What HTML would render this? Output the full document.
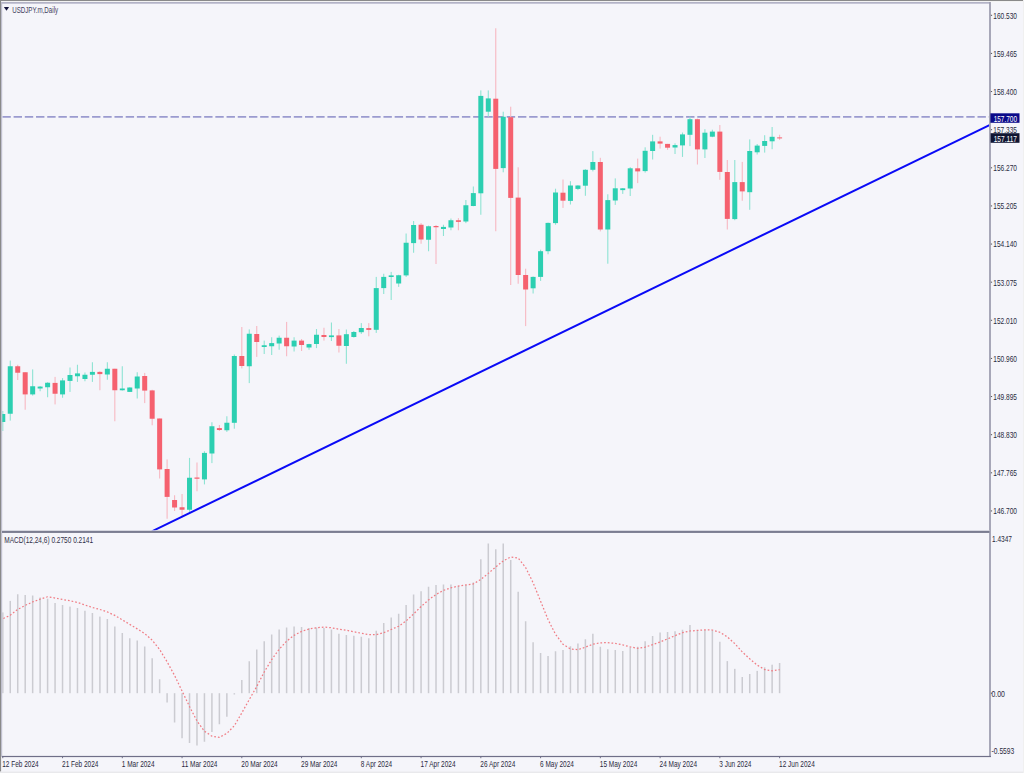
<!DOCTYPE html><html><head><meta charset="utf-8"><title>USDJPY.m,Daily</title><style>html,body{margin:0;padding:0;background:#f5f5fa;overflow:hidden}svg{display:block}text{font-family:"Liberation Sans",Arial,sans-serif}</style></head><body>
<svg width="1024" height="773" viewBox="0 0 1024 773">
<rect x="0" y="0" width="1024" height="773" fill="#f5f5fa"/>
<defs><clipPath id="cm"><rect x="2.2" y="3.6" width="987.3" height="527.4"/></clipPath><clipPath id="cs"><rect x="2.2" y="533" width="987.3" height="223"/></clipPath></defs>
<g clip-path="url(#cm)">
<line x1="2.39" y1="116.9" x2="989" y2="116.9" stroke="#9b9bcf" stroke-width="1.8" stroke-dasharray="8.4 2.808"/>
<rect x="2.23" y="411.00" width="1.1" height="20.00" fill="#8fe3d3"/>
<rect x="0.28" y="414.00" width="5" height="8.00" fill="#2ccfb1"/>
<rect x="9.70" y="360.60" width="1.1" height="60.00" fill="#8fe3d3"/>
<rect x="7.75" y="366.25" width="5" height="47.50" fill="#2ccfb1"/>
<rect x="17.17" y="364.75" width="1.1" height="15.25" fill="#f7b8c2"/>
<rect x="15.22" y="366.25" width="5" height="6.50" fill="#f5616f"/>
<rect x="24.64" y="372.25" width="1.1" height="37.50" fill="#f7b8c2"/>
<rect x="22.69" y="372.25" width="5" height="22.15" fill="#f5616f"/>
<rect x="32.11" y="369.40" width="1.1" height="26.20" fill="#8fe3d3"/>
<rect x="30.16" y="386.25" width="5" height="8.15" fill="#2ccfb1"/>
<rect x="39.58" y="386.00" width="1.1" height="5.25" fill="#8fe3d3"/>
<rect x="37.63" y="386.60" width="5" height="1.90" fill="#2ccfb1"/>
<rect x="47.05" y="382.25" width="1.1" height="15.00" fill="#8fe3d3"/>
<rect x="45.10" y="382.75" width="5" height="4.50" fill="#2ccfb1"/>
<rect x="54.52" y="376.90" width="1.1" height="27.50" fill="#f7b8c2"/>
<rect x="52.57" y="382.90" width="5" height="10.85" fill="#f5616f"/>
<rect x="61.99" y="378.10" width="1.1" height="19.65" fill="#8fe3d3"/>
<rect x="60.04" y="380.40" width="5" height="14.00" fill="#2ccfb1"/>
<rect x="69.45" y="367.50" width="1.1" height="24.40" fill="#8fe3d3"/>
<rect x="67.50" y="375.00" width="5" height="5.90" fill="#2ccfb1"/>
<rect x="76.92" y="364.75" width="1.1" height="17.15" fill="#8fe3d3"/>
<rect x="74.97" y="373.40" width="5" height="2.85" fill="#2ccfb1"/>
<rect x="84.39" y="372.50" width="1.1" height="8.75" fill="#8fe3d3"/>
<rect x="82.44" y="374.75" width="5" height="4.25" fill="#2ccfb1"/>
<rect x="91.86" y="362.25" width="1.1" height="19.65" fill="#8fe3d3"/>
<rect x="89.91" y="371.90" width="5" height="2.85" fill="#2ccfb1"/>
<rect x="99.33" y="371.25" width="1.1" height="19.00" fill="#f7b8c2"/>
<rect x="97.38" y="371.90" width="5" height="2.20" fill="#f5616f"/>
<rect x="106.80" y="362.25" width="1.1" height="17.50" fill="#8fe3d3"/>
<rect x="104.85" y="368.75" width="5" height="5.75" fill="#2ccfb1"/>
<rect x="114.27" y="368.75" width="1.1" height="52.50" fill="#f7b8c2"/>
<rect x="112.32" y="368.75" width="5" height="21.50" fill="#f5616f"/>
<rect x="121.74" y="366.25" width="1.1" height="24.35" fill="#8fe3d3"/>
<rect x="119.79" y="388.50" width="5" height="1.75" fill="#2ccfb1"/>
<rect x="129.21" y="387.25" width="1.1" height="4.75" fill="#8fe3d3"/>
<rect x="127.26" y="387.50" width="5" height="4.40" fill="#2ccfb1"/>
<rect x="136.68" y="372.25" width="1.1" height="26.25" fill="#8fe3d3"/>
<rect x="134.73" y="376.50" width="5" height="12.00" fill="#2ccfb1"/>
<rect x="144.15" y="372.90" width="1.1" height="30.20" fill="#f7b8c2"/>
<rect x="142.20" y="376.00" width="5" height="14.60" fill="#f5616f"/>
<rect x="151.62" y="389.75" width="1.1" height="35.50" fill="#f7b8c2"/>
<rect x="149.67" y="390.40" width="5" height="28.35" fill="#f5616f"/>
<rect x="159.09" y="418.50" width="1.1" height="60.00" fill="#f7b8c2"/>
<rect x="157.14" y="418.50" width="5" height="50.90" fill="#f5616f"/>
<rect x="166.56" y="459.40" width="1.1" height="59.35" fill="#f7b8c2"/>
<rect x="164.61" y="469.00" width="5" height="27.90" fill="#f5616f"/>
<rect x="174.03" y="495.25" width="1.1" height="15.75" fill="#f7b8c2"/>
<rect x="172.08" y="500.00" width="5" height="7.50" fill="#f5616f"/>
<rect x="181.50" y="494.00" width="1.1" height="23.50" fill="#f7b8c2"/>
<rect x="179.55" y="507.25" width="5" height="2.50" fill="#f5616f"/>
<rect x="188.97" y="457.90" width="1.1" height="54.60" fill="#8fe3d3"/>
<rect x="187.02" y="477.75" width="5" height="32.00" fill="#2ccfb1"/>
<rect x="196.43" y="462.50" width="1.1" height="28.75" fill="#f7b8c2"/>
<rect x="194.48" y="477.50" width="5" height="1.25" fill="#f5616f"/>
<rect x="203.90" y="451.25" width="1.1" height="33.15" fill="#8fe3d3"/>
<rect x="201.95" y="452.90" width="5" height="26.50" fill="#2ccfb1"/>
<rect x="211.37" y="422.25" width="1.1" height="40.85" fill="#8fe3d3"/>
<rect x="209.42" y="426.25" width="5" height="27.25" fill="#2ccfb1"/>
<rect x="218.84" y="425.00" width="1.1" height="6.00" fill="#f7b8c2"/>
<rect x="216.89" y="428.10" width="5" height="1.90" fill="#f5616f"/>
<rect x="226.31" y="416.25" width="1.1" height="15.65" fill="#8fe3d3"/>
<rect x="224.36" y="422.75" width="5" height="7.50" fill="#2ccfb1"/>
<rect x="233.78" y="354.50" width="1.1" height="74.20" fill="#8fe3d3"/>
<rect x="231.83" y="356.00" width="5" height="66.80" fill="#2ccfb1"/>
<rect x="241.25" y="327.00" width="1.1" height="41.40" fill="#f7b8c2"/>
<rect x="239.30" y="356.00" width="5" height="10.00" fill="#f5616f"/>
<rect x="248.72" y="329.40" width="1.1" height="53.70" fill="#8fe3d3"/>
<rect x="246.77" y="333.75" width="5" height="32.50" fill="#2ccfb1"/>
<rect x="256.19" y="326.00" width="1.1" height="30.90" fill="#f7b8c2"/>
<rect x="254.24" y="334.00" width="5" height="8.00" fill="#f5616f"/>
<rect x="263.66" y="340.60" width="1.1" height="13.40" fill="#8fe3d3"/>
<rect x="261.71" y="345.25" width="5" height="1.75" fill="#2ccfb1"/>
<rect x="271.13" y="337.25" width="1.1" height="17.75" fill="#8fe3d3"/>
<rect x="269.18" y="343.10" width="5" height="3.15" fill="#2ccfb1"/>
<rect x="278.60" y="335.60" width="1.1" height="14.15" fill="#8fe3d3"/>
<rect x="276.65" y="337.75" width="5" height="5.75" fill="#2ccfb1"/>
<rect x="286.07" y="321.90" width="1.1" height="34.35" fill="#f7b8c2"/>
<rect x="284.12" y="337.75" width="5" height="8.50" fill="#f5616f"/>
<rect x="293.54" y="337.25" width="1.1" height="14.25" fill="#8fe3d3"/>
<rect x="291.59" y="340.60" width="5" height="5.90" fill="#2ccfb1"/>
<rect x="301.01" y="339.00" width="1.1" height="12.00" fill="#f7b8c2"/>
<rect x="299.06" y="340.60" width="5" height="4.40" fill="#f5616f"/>
<rect x="308.48" y="343.75" width="1.1" height="6.00" fill="#8fe3d3"/>
<rect x="306.53" y="344.10" width="5" height="3.40" fill="#2ccfb1"/>
<rect x="315.94" y="329.00" width="1.1" height="19.10" fill="#8fe3d3"/>
<rect x="313.99" y="334.75" width="5" height="9.25" fill="#2ccfb1"/>
<rect x="323.41" y="327.75" width="1.1" height="12.85" fill="#f7b8c2"/>
<rect x="321.46" y="335.00" width="5" height="2.00" fill="#f5616f"/>
<rect x="330.88" y="322.50" width="1.1" height="18.50" fill="#8fe3d3"/>
<rect x="328.93" y="335.40" width="5" height="1.70" fill="#2ccfb1"/>
<rect x="338.35" y="329.00" width="1.1" height="23.50" fill="#f7b8c2"/>
<rect x="336.40" y="335.40" width="5" height="10.35" fill="#f5616f"/>
<rect x="345.82" y="329.50" width="1.1" height="34.25" fill="#8fe3d3"/>
<rect x="343.87" y="334.20" width="5" height="11.80" fill="#2ccfb1"/>
<rect x="353.29" y="331.00" width="1.1" height="6.60" fill="#8fe3d3"/>
<rect x="351.34" y="332.00" width="5" height="5.00" fill="#2ccfb1"/>
<rect x="360.76" y="323.10" width="1.1" height="10.80" fill="#8fe3d3"/>
<rect x="358.81" y="328.00" width="5" height="4.20" fill="#2ccfb1"/>
<rect x="368.23" y="323.10" width="1.1" height="13.20" fill="#f7b8c2"/>
<rect x="366.28" y="328.10" width="5" height="1.80" fill="#f5616f"/>
<rect x="375.70" y="276.90" width="1.1" height="56.00" fill="#8fe3d3"/>
<rect x="373.75" y="288.10" width="5" height="41.70" fill="#2ccfb1"/>
<rect x="383.17" y="273.75" width="1.1" height="20.25" fill="#8fe3d3"/>
<rect x="381.22" y="276.90" width="5" height="11.20" fill="#2ccfb1"/>
<rect x="390.64" y="271.90" width="1.1" height="28.10" fill="#8fe3d3"/>
<rect x="388.69" y="275.40" width="5" height="1.60" fill="#2ccfb1"/>
<rect x="398.11" y="274.75" width="1.1" height="12.15" fill="#8fe3d3"/>
<rect x="396.16" y="275.25" width="5" height="8.25" fill="#2ccfb1"/>
<rect x="405.58" y="233.50" width="1.1" height="43.40" fill="#8fe3d3"/>
<rect x="403.63" y="242.75" width="5" height="32.65" fill="#2ccfb1"/>
<rect x="413.05" y="221.00" width="1.1" height="31.75" fill="#8fe3d3"/>
<rect x="411.10" y="225.00" width="5" height="18.10" fill="#2ccfb1"/>
<rect x="420.52" y="223.10" width="1.1" height="20.65" fill="#f7b8c2"/>
<rect x="418.57" y="224.75" width="5" height="14.75" fill="#f5616f"/>
<rect x="427.99" y="225.60" width="1.1" height="25.65" fill="#8fe3d3"/>
<rect x="426.04" y="226.25" width="5" height="13.50" fill="#2ccfb1"/>
<rect x="435.46" y="225.00" width="1.1" height="39.00" fill="#f7b8c2"/>
<rect x="433.51" y="226.00" width="5" height="1.25" fill="#f5616f"/>
<rect x="442.92" y="224.75" width="1.1" height="11.25" fill="#8fe3d3"/>
<rect x="440.97" y="226.90" width="5" height="2.10" fill="#2ccfb1"/>
<rect x="450.39" y="218.50" width="1.1" height="11.75" fill="#8fe3d3"/>
<rect x="448.44" y="220.25" width="5" height="7.25" fill="#2ccfb1"/>
<rect x="457.86" y="218.10" width="1.1" height="12.15" fill="#f7b8c2"/>
<rect x="455.91" y="220.25" width="5" height="1.65" fill="#f5616f"/>
<rect x="465.33" y="200.00" width="1.1" height="23.10" fill="#8fe3d3"/>
<rect x="463.38" y="205.25" width="5" height="16.25" fill="#2ccfb1"/>
<rect x="472.80" y="186.50" width="1.1" height="19.75" fill="#8fe3d3"/>
<rect x="470.85" y="193.10" width="5" height="12.90" fill="#2ccfb1"/>
<rect x="480.27" y="90.40" width="1.1" height="124.35" fill="#8fe3d3"/>
<rect x="478.32" y="95.90" width="5" height="97.40" fill="#2ccfb1"/>
<rect x="487.74" y="90.40" width="1.1" height="26.40" fill="#8fe3d3"/>
<rect x="485.79" y="98.40" width="5" height="13.30" fill="#2ccfb1"/>
<rect x="495.21" y="28.25" width="1.1" height="203.00" fill="#f7b8c2"/>
<rect x="493.26" y="98.70" width="5" height="70.20" fill="#f5616f"/>
<rect x="502.68" y="111.70" width="1.1" height="60.60" fill="#8fe3d3"/>
<rect x="500.73" y="116.80" width="5" height="51.30" fill="#2ccfb1"/>
<rect x="510.15" y="106.70" width="1.1" height="178.30" fill="#f7b8c2"/>
<rect x="508.20" y="117.20" width="5" height="80.70" fill="#f5616f"/>
<rect x="517.62" y="167.30" width="1.1" height="116.45" fill="#f7b8c2"/>
<rect x="515.67" y="197.60" width="5" height="77.40" fill="#f5616f"/>
<rect x="525.09" y="268.70" width="1.1" height="57.40" fill="#f7b8c2"/>
<rect x="523.14" y="275.00" width="5" height="14.50" fill="#f5616f"/>
<rect x="532.56" y="276.50" width="1.1" height="17.00" fill="#8fe3d3"/>
<rect x="530.61" y="276.90" width="5" height="11.40" fill="#2ccfb1"/>
<rect x="540.03" y="249.70" width="1.1" height="31.20" fill="#8fe3d3"/>
<rect x="538.08" y="251.20" width="5" height="25.70" fill="#2ccfb1"/>
<rect x="547.50" y="222.60" width="1.1" height="31.65" fill="#8fe3d3"/>
<rect x="545.55" y="222.90" width="5" height="28.30" fill="#2ccfb1"/>
<rect x="554.97" y="188.70" width="1.1" height="36.05" fill="#8fe3d3"/>
<rect x="553.02" y="192.50" width="5" height="30.60" fill="#2ccfb1"/>
<rect x="562.44" y="179.50" width="1.1" height="28.40" fill="#f7b8c2"/>
<rect x="560.49" y="192.70" width="5" height="8.00" fill="#f5616f"/>
<rect x="569.90" y="181.20" width="1.1" height="23.30" fill="#8fe3d3"/>
<rect x="567.95" y="185.50" width="5" height="15.40" fill="#2ccfb1"/>
<rect x="577.37" y="185.20" width="1.1" height="4.90" fill="#8fe3d3"/>
<rect x="575.42" y="185.50" width="5" height="3.40" fill="#2ccfb1"/>
<rect x="584.84" y="169.20" width="1.1" height="26.60" fill="#8fe3d3"/>
<rect x="582.89" y="169.80" width="5" height="15.90" fill="#2ccfb1"/>
<rect x="592.31" y="151.10" width="1.1" height="20.30" fill="#8fe3d3"/>
<rect x="590.36" y="162.00" width="5" height="7.80" fill="#2ccfb1"/>
<rect x="599.78" y="157.80" width="1.1" height="73.60" fill="#f7b8c2"/>
<rect x="597.83" y="162.00" width="5" height="67.50" fill="#f5616f"/>
<rect x="607.25" y="194.30" width="1.1" height="69.40" fill="#8fe3d3"/>
<rect x="605.30" y="200.10" width="5" height="29.40" fill="#2ccfb1"/>
<rect x="614.72" y="178.40" width="1.1" height="26.50" fill="#8fe3d3"/>
<rect x="612.77" y="188.30" width="5" height="12.20" fill="#2ccfb1"/>
<rect x="622.19" y="188.00" width="1.1" height="5.90" fill="#8fe3d3"/>
<rect x="620.24" y="188.30" width="5" height="1.80" fill="#2ccfb1"/>
<rect x="629.66" y="167.20" width="1.1" height="28.80" fill="#8fe3d3"/>
<rect x="627.71" y="168.30" width="5" height="20.20" fill="#2ccfb1"/>
<rect x="637.13" y="158.60" width="1.1" height="24.50" fill="#f7b8c2"/>
<rect x="635.18" y="168.30" width="5" height="3.10" fill="#f5616f"/>
<rect x="644.60" y="147.30" width="1.1" height="25.30" fill="#8fe3d3"/>
<rect x="642.65" y="150.80" width="5" height="20.30" fill="#2ccfb1"/>
<rect x="652.07" y="134.80" width="1.1" height="24.70" fill="#8fe3d3"/>
<rect x="650.12" y="141.40" width="5" height="9.60" fill="#2ccfb1"/>
<rect x="659.54" y="136.70" width="1.1" height="11.90" fill="#f7b8c2"/>
<rect x="657.59" y="141.40" width="5" height="2.20" fill="#f5616f"/>
<rect x="667.01" y="143.90" width="1.1" height="5.90" fill="#f7b8c2"/>
<rect x="665.06" y="143.90" width="5" height="3.80" fill="#f5616f"/>
<rect x="674.48" y="143.30" width="1.1" height="10.70" fill="#8fe3d3"/>
<rect x="672.53" y="145.10" width="5" height="2.40" fill="#2ccfb1"/>
<rect x="681.95" y="132.50" width="1.1" height="24.40" fill="#8fe3d3"/>
<rect x="680.00" y="134.40" width="5" height="11.00" fill="#2ccfb1"/>
<rect x="689.41" y="116.60" width="1.1" height="29.50" fill="#8fe3d3"/>
<rect x="687.46" y="119.20" width="5" height="15.60" fill="#2ccfb1"/>
<rect x="696.88" y="118.60" width="1.1" height="45.90" fill="#f7b8c2"/>
<rect x="694.93" y="119.20" width="5" height="30.20" fill="#f5616f"/>
<rect x="704.35" y="129.20" width="1.1" height="28.80" fill="#8fe3d3"/>
<rect x="702.40" y="132.70" width="5" height="16.70" fill="#2ccfb1"/>
<rect x="711.82" y="129.70" width="1.1" height="7.50" fill="#8fe3d3"/>
<rect x="709.87" y="131.60" width="5" height="5.10" fill="#2ccfb1"/>
<rect x="719.29" y="125.00" width="1.1" height="54.80" fill="#f7b8c2"/>
<rect x="717.34" y="131.60" width="5" height="40.30" fill="#f5616f"/>
<rect x="726.76" y="160.00" width="1.1" height="69.50" fill="#f7b8c2"/>
<rect x="724.81" y="172.00" width="5" height="46.90" fill="#f5616f"/>
<rect x="734.23" y="160.00" width="1.1" height="60.20" fill="#8fe3d3"/>
<rect x="732.28" y="182.10" width="5" height="37.00" fill="#2ccfb1"/>
<rect x="741.70" y="161.90" width="1.1" height="38.85" fill="#f7b8c2"/>
<rect x="739.75" y="182.10" width="5" height="9.30" fill="#f5616f"/>
<rect x="749.17" y="139.40" width="1.1" height="70.40" fill="#8fe3d3"/>
<rect x="747.22" y="151.00" width="5" height="41.20" fill="#2ccfb1"/>
<rect x="756.64" y="144.00" width="1.1" height="10.50" fill="#8fe3d3"/>
<rect x="754.69" y="145.60" width="5" height="6.70" fill="#2ccfb1"/>
<rect x="764.11" y="135.20" width="1.1" height="17.40" fill="#8fe3d3"/>
<rect x="762.16" y="141.00" width="5" height="4.90" fill="#2ccfb1"/>
<rect x="771.58" y="127.00" width="1.1" height="22.20" fill="#8fe3d3"/>
<rect x="769.63" y="136.80" width="5" height="4.50" fill="#2ccfb1"/>
<rect x="779.05" y="134.75" width="1.1" height="5.15" fill="#f7b8c2"/>
<rect x="777.10" y="137.40" width="5" height="1.00" fill="#f5616f"/>
<line x1="151.9" y1="531.3" x2="989.5" y2="125.1" stroke="#0a0af6" stroke-width="2"/>
</g>
<g clip-path="url(#cs)">
<rect x="2.03" y="612.40" width="1.5" height="80.80" fill="#cbcbd1"/>
<rect x="9.50" y="600.90" width="1.5" height="92.30" fill="#cbcbd1"/>
<rect x="16.97" y="594.25" width="1.5" height="98.95" fill="#cbcbd1"/>
<rect x="24.44" y="595.00" width="1.5" height="98.20" fill="#cbcbd1"/>
<rect x="31.91" y="595.50" width="1.5" height="97.70" fill="#cbcbd1"/>
<rect x="39.38" y="597.50" width="1.5" height="95.70" fill="#cbcbd1"/>
<rect x="46.85" y="598.70" width="1.5" height="94.50" fill="#cbcbd1"/>
<rect x="54.32" y="603.00" width="1.5" height="90.20" fill="#cbcbd1"/>
<rect x="61.79" y="605.00" width="1.5" height="88.20" fill="#cbcbd1"/>
<rect x="69.25" y="606.60" width="1.5" height="86.60" fill="#cbcbd1"/>
<rect x="76.72" y="608.00" width="1.5" height="85.20" fill="#cbcbd1"/>
<rect x="84.19" y="610.75" width="1.5" height="82.45" fill="#cbcbd1"/>
<rect x="91.66" y="613.00" width="1.5" height="80.20" fill="#cbcbd1"/>
<rect x="99.13" y="616.60" width="1.5" height="76.60" fill="#cbcbd1"/>
<rect x="106.60" y="619.00" width="1.5" height="74.20" fill="#cbcbd1"/>
<rect x="114.07" y="626.50" width="1.5" height="66.70" fill="#cbcbd1"/>
<rect x="121.54" y="633.00" width="1.5" height="60.20" fill="#cbcbd1"/>
<rect x="129.01" y="638.25" width="1.5" height="54.95" fill="#cbcbd1"/>
<rect x="136.48" y="640.50" width="1.5" height="52.70" fill="#cbcbd1"/>
<rect x="143.95" y="646.50" width="1.5" height="46.70" fill="#cbcbd1"/>
<rect x="151.42" y="658.25" width="1.5" height="34.95" fill="#cbcbd1"/>
<rect x="158.89" y="679.25" width="1.5" height="13.95" fill="#cbcbd1"/>
<rect x="166.36" y="693.20" width="1.5" height="9.30" fill="#cbcbd1"/>
<rect x="173.83" y="693.20" width="1.5" height="29.30" fill="#cbcbd1"/>
<rect x="181.30" y="693.20" width="1.5" height="45.05" fill="#cbcbd1"/>
<rect x="188.77" y="693.20" width="1.5" height="49.80" fill="#cbcbd1"/>
<rect x="196.23" y="693.20" width="1.5" height="52.30" fill="#cbcbd1"/>
<rect x="203.70" y="693.20" width="1.5" height="48.55" fill="#cbcbd1"/>
<rect x="211.17" y="693.20" width="1.5" height="38.80" fill="#cbcbd1"/>
<rect x="218.64" y="693.20" width="1.5" height="31.05" fill="#cbcbd1"/>
<rect x="226.11" y="693.20" width="1.5" height="23.55" fill="#cbcbd1"/>
<rect x="233.58" y="693.20" width="1.5" height="1.30" fill="#cbcbd1"/>
<rect x="241.05" y="680.00" width="1.5" height="13.20" fill="#cbcbd1"/>
<rect x="248.52" y="661.25" width="1.5" height="31.95" fill="#cbcbd1"/>
<rect x="255.99" y="649.50" width="1.5" height="43.70" fill="#cbcbd1"/>
<rect x="263.46" y="641.25" width="1.5" height="51.95" fill="#cbcbd1"/>
<rect x="270.93" y="634.50" width="1.5" height="58.70" fill="#cbcbd1"/>
<rect x="278.40" y="629.50" width="1.5" height="63.70" fill="#cbcbd1"/>
<rect x="285.87" y="627.50" width="1.5" height="65.70" fill="#cbcbd1"/>
<rect x="293.34" y="626.50" width="1.5" height="66.70" fill="#cbcbd1"/>
<rect x="300.81" y="627.00" width="1.5" height="66.20" fill="#cbcbd1"/>
<rect x="308.28" y="628.00" width="1.5" height="65.20" fill="#cbcbd1"/>
<rect x="315.74" y="627.50" width="1.5" height="65.70" fill="#cbcbd1"/>
<rect x="323.21" y="628.00" width="1.5" height="65.20" fill="#cbcbd1"/>
<rect x="330.68" y="629.50" width="1.5" height="63.70" fill="#cbcbd1"/>
<rect x="338.15" y="633.75" width="1.5" height="59.45" fill="#cbcbd1"/>
<rect x="345.62" y="635.00" width="1.5" height="58.20" fill="#cbcbd1"/>
<rect x="353.09" y="635.75" width="1.5" height="57.45" fill="#cbcbd1"/>
<rect x="360.56" y="636.75" width="1.5" height="56.45" fill="#cbcbd1"/>
<rect x="368.03" y="638.25" width="1.5" height="54.95" fill="#cbcbd1"/>
<rect x="375.50" y="630.75" width="1.5" height="62.45" fill="#cbcbd1"/>
<rect x="382.97" y="623.00" width="1.5" height="70.20" fill="#cbcbd1"/>
<rect x="390.44" y="617.50" width="1.5" height="75.70" fill="#cbcbd1"/>
<rect x="397.91" y="613.75" width="1.5" height="79.45" fill="#cbcbd1"/>
<rect x="405.38" y="605.00" width="1.5" height="88.20" fill="#cbcbd1"/>
<rect x="412.85" y="594.50" width="1.5" height="98.70" fill="#cbcbd1"/>
<rect x="420.32" y="591.25" width="1.5" height="101.95" fill="#cbcbd1"/>
<rect x="427.79" y="586.75" width="1.5" height="106.45" fill="#cbcbd1"/>
<rect x="435.26" y="585.00" width="1.5" height="108.20" fill="#cbcbd1"/>
<rect x="442.72" y="584.50" width="1.5" height="108.70" fill="#cbcbd1"/>
<rect x="450.19" y="584.50" width="1.5" height="108.70" fill="#cbcbd1"/>
<rect x="457.66" y="585.75" width="1.5" height="107.45" fill="#cbcbd1"/>
<rect x="465.13" y="585.00" width="1.5" height="108.20" fill="#cbcbd1"/>
<rect x="472.60" y="582.40" width="1.5" height="110.80" fill="#cbcbd1"/>
<rect x="480.07" y="559.25" width="1.5" height="133.95" fill="#cbcbd1"/>
<rect x="487.54" y="543.50" width="1.5" height="149.70" fill="#cbcbd1"/>
<rect x="495.01" y="549.25" width="1.5" height="143.95" fill="#cbcbd1"/>
<rect x="502.48" y="543.50" width="1.5" height="149.70" fill="#cbcbd1"/>
<rect x="509.95" y="560.00" width="1.5" height="133.20" fill="#cbcbd1"/>
<rect x="517.42" y="591.75" width="1.5" height="101.45" fill="#cbcbd1"/>
<rect x="524.89" y="621.25" width="1.5" height="71.95" fill="#cbcbd1"/>
<rect x="532.36" y="642.25" width="1.5" height="50.95" fill="#cbcbd1"/>
<rect x="539.83" y="653.00" width="1.5" height="40.20" fill="#cbcbd1"/>
<rect x="547.30" y="656.00" width="1.5" height="37.20" fill="#cbcbd1"/>
<rect x="554.77" y="651.25" width="1.5" height="41.95" fill="#cbcbd1"/>
<rect x="562.24" y="650.00" width="1.5" height="43.20" fill="#cbcbd1"/>
<rect x="569.70" y="646.25" width="1.5" height="46.95" fill="#cbcbd1"/>
<rect x="577.17" y="643.50" width="1.5" height="49.70" fill="#cbcbd1"/>
<rect x="584.64" y="639.25" width="1.5" height="53.95" fill="#cbcbd1"/>
<rect x="592.11" y="633.75" width="1.5" height="59.45" fill="#cbcbd1"/>
<rect x="599.58" y="646.75" width="1.5" height="46.45" fill="#cbcbd1"/>
<rect x="607.05" y="649.25" width="1.5" height="43.95" fill="#cbcbd1"/>
<rect x="614.52" y="650.00" width="1.5" height="43.20" fill="#cbcbd1"/>
<rect x="621.99" y="651.00" width="1.5" height="42.20" fill="#cbcbd1"/>
<rect x="629.46" y="647.50" width="1.5" height="45.70" fill="#cbcbd1"/>
<rect x="636.93" y="646.75" width="1.5" height="46.45" fill="#cbcbd1"/>
<rect x="644.40" y="641.25" width="1.5" height="51.95" fill="#cbcbd1"/>
<rect x="651.87" y="636.00" width="1.5" height="57.20" fill="#cbcbd1"/>
<rect x="659.34" y="632.50" width="1.5" height="60.70" fill="#cbcbd1"/>
<rect x="666.81" y="632.00" width="1.5" height="61.20" fill="#cbcbd1"/>
<rect x="674.28" y="631.25" width="1.5" height="61.95" fill="#cbcbd1"/>
<rect x="681.75" y="629.75" width="1.5" height="63.45" fill="#cbcbd1"/>
<rect x="689.21" y="625.00" width="1.5" height="68.20" fill="#cbcbd1"/>
<rect x="696.68" y="630.25" width="1.5" height="62.95" fill="#cbcbd1"/>
<rect x="704.15" y="630.00" width="1.5" height="63.20" fill="#cbcbd1"/>
<rect x="711.62" y="630.00" width="1.5" height="63.20" fill="#cbcbd1"/>
<rect x="719.09" y="641.75" width="1.5" height="51.45" fill="#cbcbd1"/>
<rect x="726.56" y="661.10" width="1.5" height="32.10" fill="#cbcbd1"/>
<rect x="734.03" y="668.85" width="1.5" height="24.35" fill="#cbcbd1"/>
<rect x="741.50" y="677.00" width="1.5" height="16.20" fill="#cbcbd1"/>
<rect x="748.97" y="674.00" width="1.5" height="19.20" fill="#cbcbd1"/>
<rect x="756.44" y="670.90" width="1.5" height="22.30" fill="#cbcbd1"/>
<rect x="763.91" y="667.30" width="1.5" height="25.90" fill="#cbcbd1"/>
<rect x="771.38" y="664.70" width="1.5" height="28.50" fill="#cbcbd1"/>
<rect x="778.85" y="663.00" width="1.5" height="30.20" fill="#cbcbd1"/>
<polyline points="0.00,620.00 2.78,618.75 10.25,615.30 17.72,609.38 25.19,605.41 32.66,601.94 40.13,599.21 47.60,596.77 55.07,598.01 62.54,599.51 70.00,600.75 77.47,602.49 84.94,604.98 92.41,607.47 99.88,609.47 107.35,611.95 114.82,615.42 122.29,619.87 129.76,624.36 137.23,628.84 144.70,633.56 152.17,640.20 159.64,649.54 167.11,661.84 174.58,675.47 182.05,691.05 189.52,706.50 196.98,721.00 204.45,731.27 211.92,736.15 219.39,737.42 226.86,733.38 234.33,725.71 241.80,712.95 249.27,699.55 256.74,686.52 264.21,672.04 271.68,659.59 279.15,649.33 286.62,641.15 294.09,635.35 301.56,631.43 309.03,629.00 316.49,627.80 323.96,627.10 331.43,627.79 338.90,629.19 346.37,630.27 353.84,631.77 361.31,633.26 368.78,634.59 376.25,634.71 383.72,632.72 391.19,629.52 398.66,626.23 406.13,620.95 413.60,613.90 421.07,606.54 428.54,599.96 436.01,594.43 443.47,590.39 450.94,587.78 458.41,586.10 465.88,584.91 473.35,583.95 480.82,579.42 488.29,573.37 495.76,566.96 503.23,560.92 510.70,556.91 518.17,558.07 525.64,567.50 533.11,582.75 540.58,601.20 548.05,619.60 555.52,634.28 562.99,644.24 570.45,648.98 577.92,649.72 585.39,647.15 592.86,644.24 600.33,642.81 607.80,642.69 615.27,643.46 622.74,644.89 630.21,646.90 637.68,648.32 645.15,647.12 652.62,644.63 660.09,641.97 667.56,638.89 675.03,635.66 682.50,632.67 689.96,631.00 697.43,630.41 704.90,629.80 712.37,630.00 719.84,632.22 727.31,636.87 734.78,643.63 742.25,651.90 749.72,658.83 757.19,665.14 764.66,669.54 772.13,670.85 779.60,669.60" fill="none" stroke="#f07d85" stroke-width="1.25" stroke-dasharray="1.7 2.0"/>
</g>
<rect x="0" y="0" width="1023" height="1.3" fill="#8a8a8a"/>
<rect x="0" y="0" width="1.1" height="771.6" fill="#8a8a8a"/>
<rect x="1.1" y="1.3" width="1921" height="0.8" fill="#ffffff"/>
<rect x="1.1" y="2" width="988.5" height="1.7" fill="#b3b3c6"/>
<rect x="1.1" y="2" width="1.1" height="755" fill="#bcbccb"/>
<rect x="0" y="771.6" width="1024" height="1.4" fill="#e9e9ec"/>
<rect x="1023" y="0" width="1" height="773" fill="#f0f0f0"/>
<rect x="989.2" y="2" width="1.6" height="755" fill="#9494a8"/>
<rect x="2" y="530.2" width="987.5" height="0.9" fill="#cfd0da"/>
<rect x="2" y="531" width="987.5" height="1.95" fill="#7b7d91"/>
<rect x="2" y="755.9" width="989" height="1.2" fill="#6f6f88"/>
<path d="M3.9,6.9 L9.1,6.9 L6.5,10.7 Z" fill="#14143a"/>
<text x="12.20" y="12.60" font-size="8.90" fill="#42425e" textLength="45.90" lengthAdjust="spacingAndGlyphs">USDJPY.m,Daily</text>
<rect x="990.9" y="14.80" width="1.2" height="1" fill="#555"/>
<text x="993.30" y="18.70" font-size="8.90" fill="#2a2a40" textLength="23.70" lengthAdjust="spacingAndGlyphs">160.530</text>
<rect x="990.9" y="52.92" width="1.2" height="1" fill="#555"/>
<text x="993.30" y="56.82" font-size="8.90" fill="#2a2a40" textLength="23.70" lengthAdjust="spacingAndGlyphs">159.465</text>
<rect x="990.9" y="91.05" width="1.2" height="1" fill="#555"/>
<text x="993.30" y="94.95" font-size="8.90" fill="#2a2a40" textLength="23.70" lengthAdjust="spacingAndGlyphs">158.400</text>
<rect x="990.9" y="129.18" width="1.2" height="1" fill="#555"/>
<text x="993.30" y="133.08" font-size="8.90" fill="#2a2a40" textLength="23.70" lengthAdjust="spacingAndGlyphs">157.335</text>
<rect x="990.9" y="167.30" width="1.2" height="1" fill="#555"/>
<text x="993.30" y="171.20" font-size="8.90" fill="#2a2a40" textLength="23.70" lengthAdjust="spacingAndGlyphs">156.270</text>
<rect x="990.9" y="205.43" width="1.2" height="1" fill="#555"/>
<text x="993.30" y="209.33" font-size="8.90" fill="#2a2a40" textLength="23.70" lengthAdjust="spacingAndGlyphs">155.205</text>
<rect x="990.9" y="243.55" width="1.2" height="1" fill="#555"/>
<text x="993.30" y="247.45" font-size="8.90" fill="#2a2a40" textLength="23.70" lengthAdjust="spacingAndGlyphs">154.140</text>
<rect x="990.9" y="281.68" width="1.2" height="1" fill="#555"/>
<text x="993.30" y="285.57" font-size="8.90" fill="#2a2a40" textLength="23.70" lengthAdjust="spacingAndGlyphs">153.075</text>
<rect x="990.9" y="319.80" width="1.2" height="1" fill="#555"/>
<text x="993.30" y="323.70" font-size="8.90" fill="#2a2a40" textLength="23.70" lengthAdjust="spacingAndGlyphs">152.010</text>
<rect x="990.9" y="357.93" width="1.2" height="1" fill="#555"/>
<text x="993.30" y="361.82" font-size="8.90" fill="#2a2a40" textLength="23.70" lengthAdjust="spacingAndGlyphs">150.960</text>
<rect x="990.9" y="396.05" width="1.2" height="1" fill="#555"/>
<text x="993.30" y="399.95" font-size="8.90" fill="#2a2a40" textLength="23.70" lengthAdjust="spacingAndGlyphs">149.895</text>
<rect x="990.9" y="434.18" width="1.2" height="1" fill="#555"/>
<text x="993.30" y="438.07" font-size="8.90" fill="#2a2a40" textLength="23.70" lengthAdjust="spacingAndGlyphs">148.830</text>
<rect x="990.9" y="472.30" width="1.2" height="1" fill="#555"/>
<text x="993.30" y="476.20" font-size="8.90" fill="#2a2a40" textLength="23.70" lengthAdjust="spacingAndGlyphs">147.765</text>
<rect x="990.9" y="510.43" width="1.2" height="1" fill="#555"/>
<text x="993.30" y="514.33" font-size="8.90" fill="#2a2a40" textLength="23.70" lengthAdjust="spacingAndGlyphs">146.700</text>
<rect x="990.4" y="113.3" width="29.1" height="9.5" fill="#0a0a8a"/>
<text x="993.70" y="121.60" font-size="8.90" fill="#ffffff" textLength="23.30" lengthAdjust="spacingAndGlyphs">157.700</text>
<rect x="990.6" y="133.2" width="28.9" height="9.6" fill="#101532"/>
<text x="993.70" y="141.60" font-size="8.90" fill="#ffffff" textLength="23.30" lengthAdjust="spacingAndGlyphs">157.117</text>
<text x="4.30" y="542.80" font-size="8.90" fill="#2f2f48" textLength="88.80" lengthAdjust="spacingAndGlyphs">MACD(12,24,6) 0.2750 0.2141</text>
<text x="992.00" y="541.60" font-size="8.90" fill="#2a2a40" textLength="20.00" lengthAdjust="spacingAndGlyphs">1.4347</text>
<rect x="990.9" y="692.7" width="1.2" height="1" fill="#555"/>
<text x="991.40" y="697.40" font-size="8.90" fill="#2a2a40" textLength="13.50" lengthAdjust="spacingAndGlyphs">0.00</text>
<text x="991.60" y="754.00" font-size="8.90" fill="#2a2a40" textLength="22.70" lengthAdjust="spacingAndGlyphs">-0.5593</text>
<rect x="2.28" y="756" width="1" height="2.2" fill="#6f6f88"/>
<text x="2.28" y="766.80" font-size="8.90" fill="#2a2a40" textLength="36.38" lengthAdjust="spacingAndGlyphs">12 Feb 2024</text>
<rect x="62.04" y="756" width="1" height="2.2" fill="#6f6f88"/>
<text x="62.04" y="766.80" font-size="8.90" fill="#2a2a40" textLength="36.38" lengthAdjust="spacingAndGlyphs">21 Feb 2024</text>
<rect x="121.79" y="756" width="1" height="2.2" fill="#6f6f88"/>
<text x="121.79" y="766.80" font-size="8.90" fill="#2a2a40" textLength="32.77" lengthAdjust="spacingAndGlyphs">1 Mar 2024</text>
<rect x="181.55" y="756" width="1" height="2.2" fill="#6f6f88"/>
<text x="181.55" y="766.80" font-size="8.90" fill="#2a2a40" textLength="35.89" lengthAdjust="spacingAndGlyphs">11 Mar 2024</text>
<rect x="241.30" y="756" width="1" height="2.2" fill="#6f6f88"/>
<text x="241.30" y="766.80" font-size="8.90" fill="#2a2a40" textLength="36.38" lengthAdjust="spacingAndGlyphs">20 Mar 2024</text>
<rect x="301.06" y="756" width="1" height="2.2" fill="#6f6f88"/>
<text x="301.06" y="766.80" font-size="8.90" fill="#2a2a40" textLength="36.38" lengthAdjust="spacingAndGlyphs">29 Mar 2024</text>
<rect x="360.81" y="756" width="1" height="2.2" fill="#6f6f88"/>
<text x="360.81" y="766.80" font-size="8.90" fill="#2a2a40" textLength="31.34" lengthAdjust="spacingAndGlyphs">8 Apr 2024</text>
<rect x="420.57" y="756" width="1" height="2.2" fill="#6f6f88"/>
<text x="420.57" y="766.80" font-size="8.90" fill="#2a2a40" textLength="34.94" lengthAdjust="spacingAndGlyphs">17 Apr 2024</text>
<rect x="480.32" y="756" width="1" height="2.2" fill="#6f6f88"/>
<text x="480.32" y="766.80" font-size="8.90" fill="#2a2a40" textLength="34.94" lengthAdjust="spacingAndGlyphs">26 Apr 2024</text>
<rect x="540.08" y="756" width="1" height="2.2" fill="#6f6f88"/>
<text x="540.08" y="766.80" font-size="8.90" fill="#2a2a40" textLength="33.85" lengthAdjust="spacingAndGlyphs">6 May 2024</text>
<rect x="599.83" y="756" width="1" height="2.2" fill="#6f6f88"/>
<text x="599.83" y="766.80" font-size="8.90" fill="#2a2a40" textLength="37.46" lengthAdjust="spacingAndGlyphs">15 May 2024</text>
<rect x="659.59" y="756" width="1" height="2.2" fill="#6f6f88"/>
<text x="659.59" y="766.80" font-size="8.90" fill="#2a2a40" textLength="37.46" lengthAdjust="spacingAndGlyphs">24 May 2024</text>
<rect x="719.34" y="756" width="1" height="2.2" fill="#6f6f88"/>
<text x="719.34" y="766.80" font-size="8.90" fill="#2a2a40" textLength="32.06" lengthAdjust="spacingAndGlyphs">3 Jun 2024</text>
<rect x="779.10" y="756" width="1" height="2.2" fill="#6f6f88"/>
<text x="779.10" y="766.80" font-size="8.90" fill="#2a2a40" textLength="35.66" lengthAdjust="spacingAndGlyphs">12 Jun 2024</text>
</svg></body></html>
